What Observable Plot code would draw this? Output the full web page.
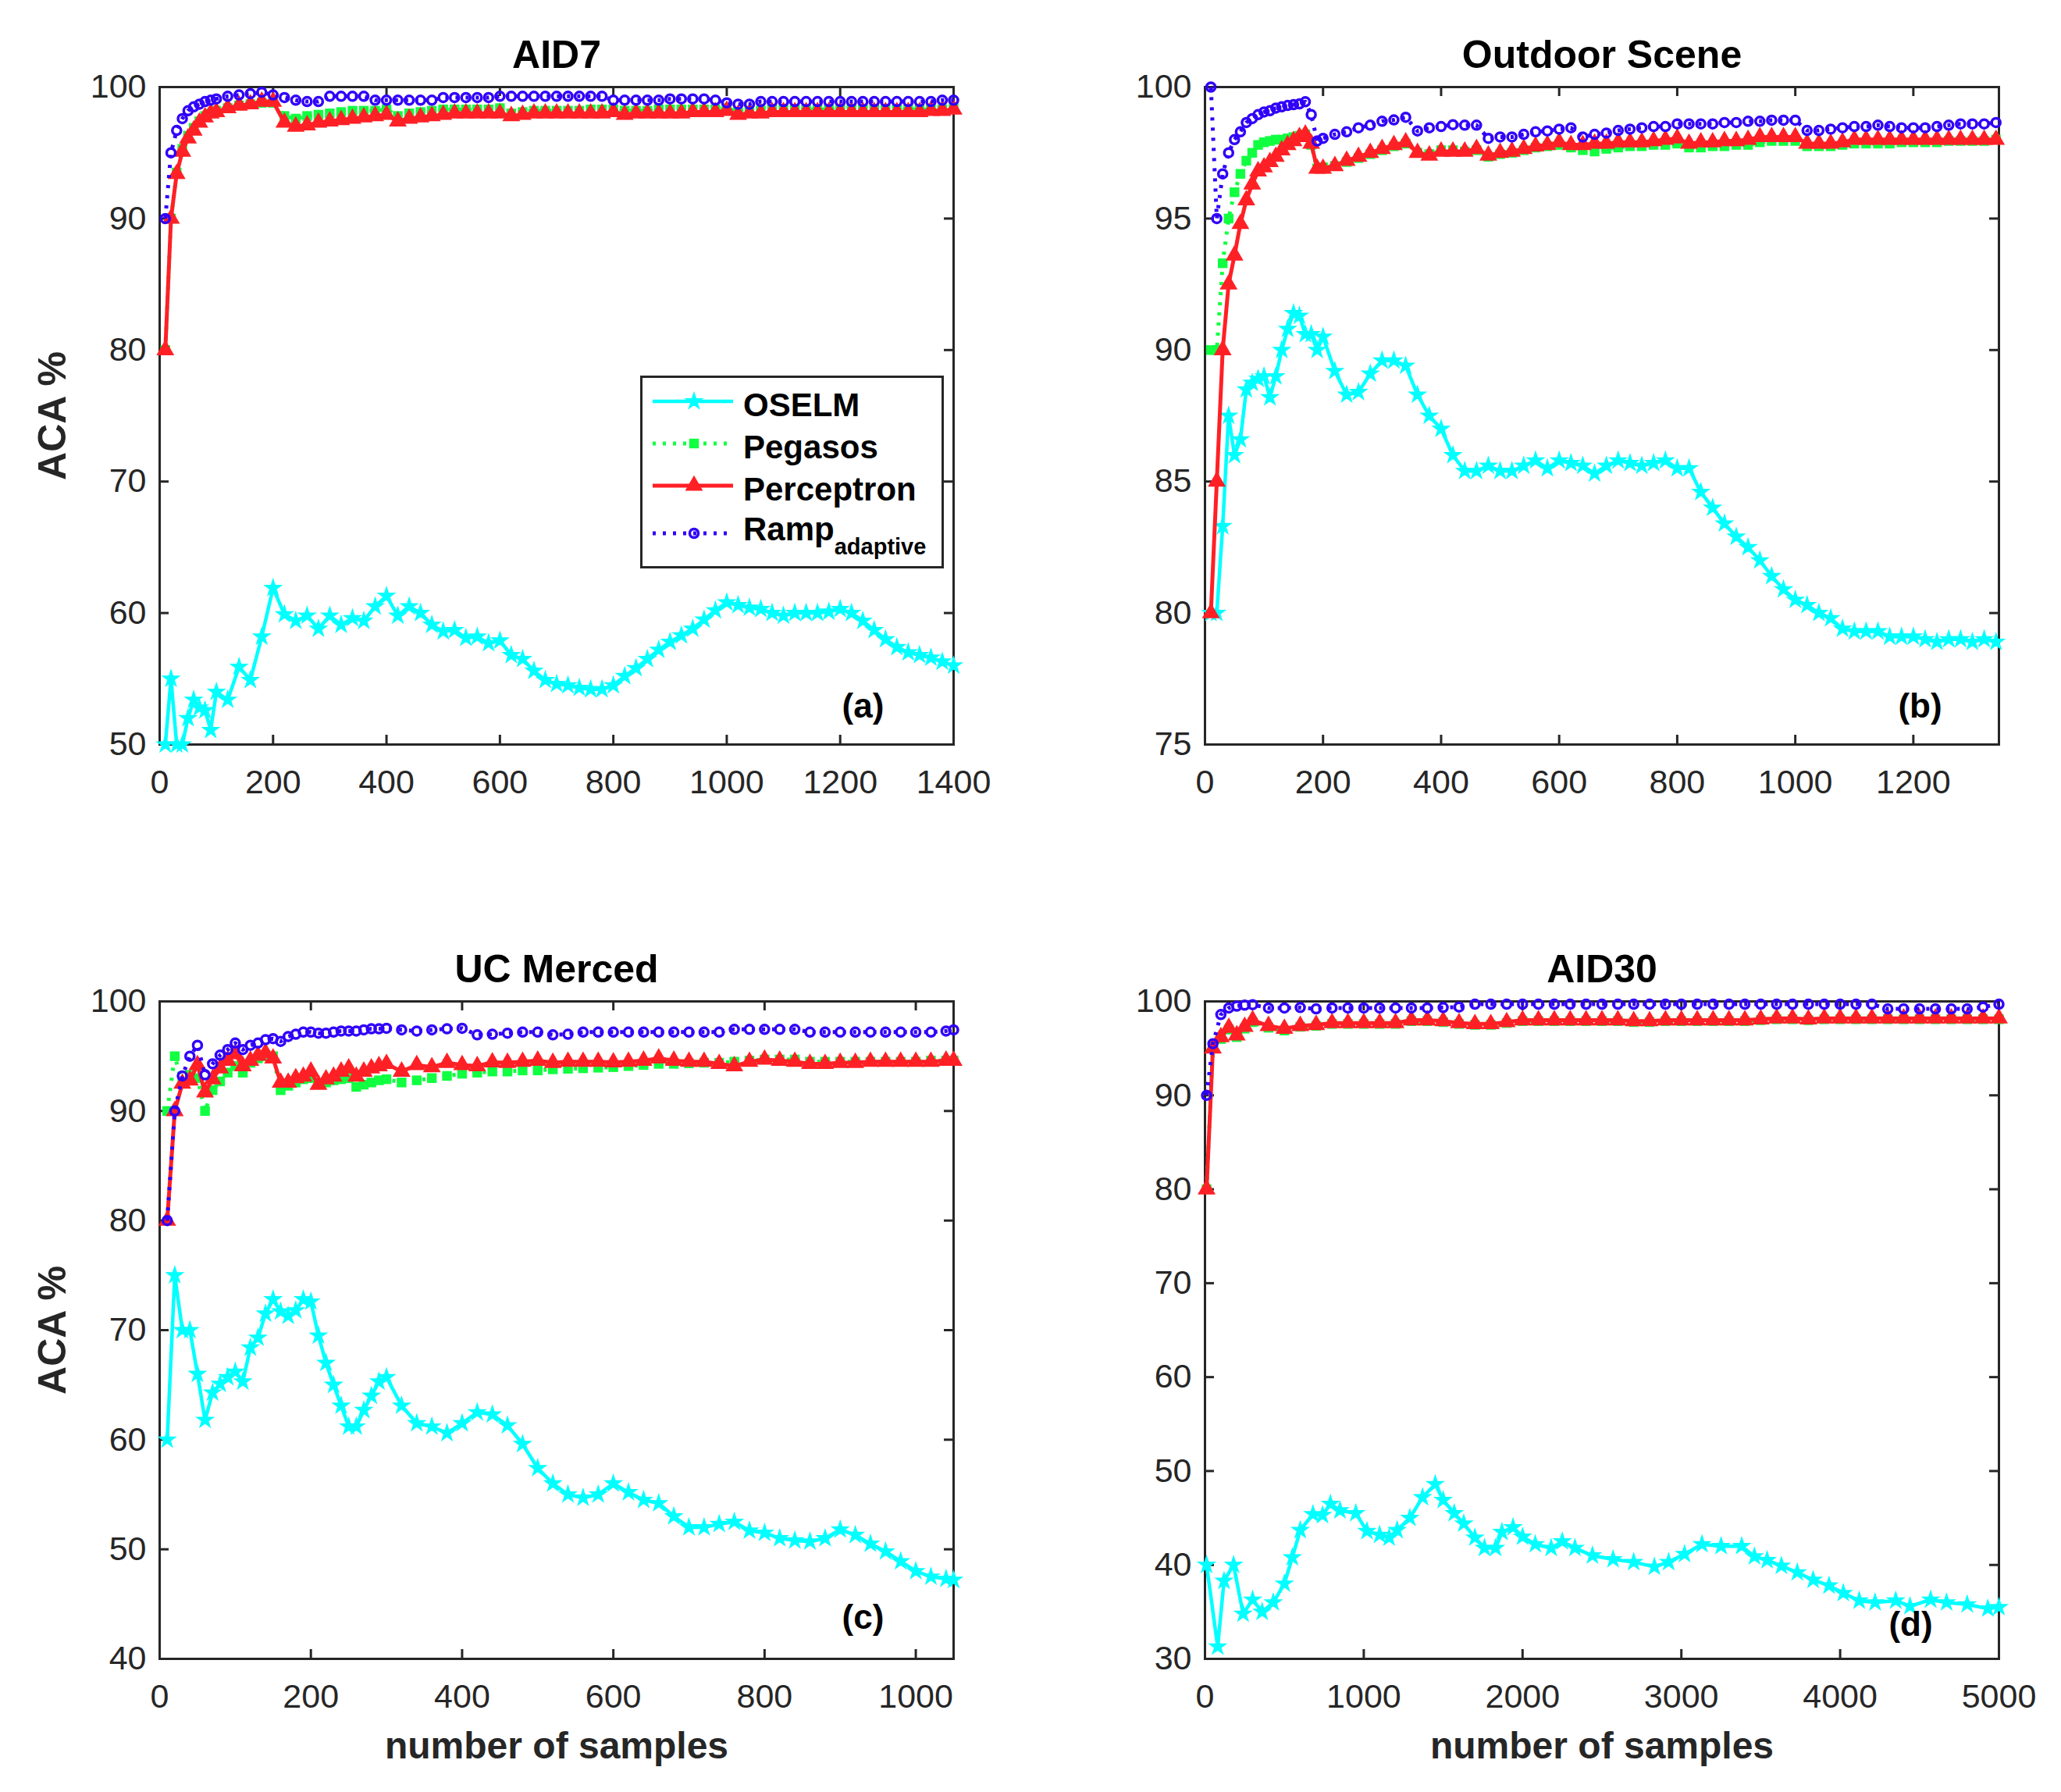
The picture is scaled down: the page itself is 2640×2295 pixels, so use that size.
<!DOCTYPE html>
<html><head><meta charset="utf-8">
<script src="https://cdn.jsdelivr.net/npm/d3@7"></script>
<script src="https://cdn.jsdelivr.net/npm/@observablehq/plot@0.6"></script>
<style>
body{margin:0;background:#fff;}
#root{position:relative;width:2640px;height:2295px;background:#fff;font-family:"Liberation Sans",Arial,Helvetica,sans-serif;overflow:hidden;}
#root svg{position:absolute;}
</style></head>
<body><div id="root"></div>
<script>
// ---------- series styling ----------
const seriesNames = ["OSELM", "Pegasos", "Perceptron", "Ramp"];
const seriesColors = ["#00ffff", "#10ff40", "#ff2026", "#3000f8"];
const seriesDash = [null, "4,9", null, "4,9"];
const seriesSymbols = ["star", "square", "triangle", "circle"];

// ---------- panel texts / ticks ----------
const titles = ["AID7", "Outdoor Scene", "UC Merced", "AID30"];
const tags = ["(a)", "(b)", "(c)", "(d)"];
const aXTicks = [0, 200, 400, 600, 800, 1000, 1200, 1400];
const bXTicks = [0, 200, 400, 600, 800, 1000, 1200];
const cXTicks = [0, 200, 400, 600, 800, 1000];
const dXTicks = [0, 1000, 2000, 3000, 4000, 5000];
const aYTicks = [50, 60, 70, 80, 90, 100];
const bYTicks = [75, 80, 85, 90, 95, 100];
const cYTicks = [40, 50, 60, 70, 80, 90, 100];
const dYTicks = [30, 40, 50, 60, 70, 80, 90, 100];

// ---------- (a) AID7 ----------
const aX = [10,20,30,40,50,60,70,80,90,100,120,140,160,180,200,220,240,260,280,300,320,340,360,380,400,420,440,460,480,500,520,540,560,580,600,620,640,660,680,700,720,740,760,780,800,820,840,860,880,900,920,940,960,980,1000,1020,1040,1060,1080,1100,1120,1140,1160,1180,1200,1220,1240,1260,1280,1300,1320,1340,1360,1380,1400];
const aOselm = [50,55,50,50,52,53.4,52.8,52.6,51.1,54.0,
  53.4,55.9,54.9,58.2,61.9,59.9,59.4,59.8,58.8,59.8,
  59.1,59.6,59.4,60.5,61.3,59.8,60.5,60.0,59.1,58.6,
  58.7,58.1,58.2,57.7,57.9,56.8,56.5,55.6,54.9,54.6,
  54.5,54.3,54.2,54.2,54.5,55.2,55.8,56.5,57.2,57.8,
  58.3,58.8,59.5,60.2,60.8,60.6,60.4,60.3,60.0,59.8,
  60.0,60.0,60.0,60.1,60.3,60.0,59.4,58.7,58.0,57.4,
  57.0,56.8,56.6,56.3,56.0];
const aPeg = [80,90,93.5,95.3,96.3,96.9,97.4,97.8,98.0,98.2,
  98.4,98.6,98.7,98.8,98.8,97.8,97.6,97.8,97.9,98.0,
  98.1,98.2,98.2,98.2,98.3,97.8,98.0,98.1,98.2,98.3,
  98.3,98.3,98.3,98.3,98.4,98.0,98.1,98.2,98.2,98.2,
  98.2,98.2,98.3,98.3,98.3,98.2,98.2,98.2,98.3,98.3,
  98.3,98.3,98.3,98.3,98.4,98.1,98.2,98.2,98.3,98.3,
  98.3,98.3,98.3,98.3,98.3,98.3,98.3,98.3,98.3,98.3,
  98.3,98.3,98.3,98.3,98.4];
const aPer = [80,90,93.4,95.1,96.1,96.7,97.3,97.7,98.0,98.1,
  98.4,98.6,98.7,98.9,98.9,97.3,97.0,97.1,97.3,97.4,
  97.5,97.6,97.7,97.8,97.9,97.4,97.6,97.7,97.8,97.9,
  98.0,98.0,98.0,98.0,98.0,97.8,97.9,98.0,98.0,98.0,
  98.0,98.0,98.0,98.0,98.1,97.9,98.0,98.0,98.0,98.0,
  98.0,98.1,98.1,98.1,98.2,97.9,98.0,98.0,98.1,98.1,
  98.1,98.1,98.1,98.1,98.1,98.1,98.1,98.1,98.1,98.1,
  98.1,98.1,98.2,98.2,98.3];
const aRamp = [90,95,96.7,97.6,98.2,98.5,98.7,98.9,99.0,99.1,
  99.3,99.4,99.5,99.6,99.4,99.2,99.0,98.9,98.9,99.3,
  99.3,99.3,99.3,99.0,99.0,99.0,99.0,99.0,99.0,99.2,
  99.2,99.2,99.2,99.2,99.3,99.3,99.3,99.3,99.3,99.3,
  99.3,99.3,99.3,99.3,99.0,99.0,99.0,99.0,99.0,99.1,
  99.1,99.1,99.1,99.0,98.8,98.7,98.7,98.9,98.9,98.9,
  98.9,98.9,98.9,98.9,98.9,98.9,98.9,98.9,98.9,98.9,
  98.9,98.9,98.9,99.0,99.0];

// ---------- (b) Outdoor Scene ----------
const bX = [10,20,30,40,50,60,70,80,90,100,110,120,130,140,150,160,170,180,190,200,220,240,260,280,300,320,340,360,380,400,420,440,460,480,500,520,540,560,580,600,620,640,660,680,700,720,740,760,780,800,820,840,860,880,900,920,940,960,980,1000,1020,1040,1060,1080,1100,1120,1140,1160,1180,1200,1220,1240,1260,1280,1300,1320,1340];
const bOselm = [80,80,83.3,87.5,86.0,86.6,88.5,88.75,88.9,89.0,
  88.2,89.0,90.0,90.8,91.4,91.3,90.6,90.6,90.0,90.5,
  89.2,88.3,88.4,89.1,89.6,89.6,89.4,88.3,87.5,87.0,
  86.0,85.4,85.4,85.6,85.4,85.4,85.6,85.8,85.5,85.8,
  85.7,85.6,85.3,85.6,85.8,85.7,85.6,85.7,85.8,85.5,
  85.5,84.6,84.0,83.4,82.9,82.5,82.0,81.4,80.9,80.5,
  80.3,80.0,79.8,79.4,79.3,79.3,79.3,79.1,79.1,79.1,
  79.0,78.9,79.0,79.0,78.9,79.0,78.9];
const bPeg = [90,90,93.3,95.0,96.0,96.7,97.2,97.5,97.8,97.9,
  97.95,98.0,98.0,98.05,98.1,98.15,98.2,97.8,96.9,96.95,
  97.0,97.15,97.3,97.45,97.6,97.75,97.85,97.5,97.45,97.6,
  97.6,97.55,97.6,97.35,97.45,97.5,97.6,97.7,97.75,97.8,
  97.7,97.6,97.55,97.65,97.7,97.75,97.75,97.8,97.8,97.85,
  97.7,97.7,97.75,97.75,97.8,97.8,97.9,97.95,97.95,97.95,
  97.75,97.75,97.75,97.8,97.85,97.85,97.85,97.85,97.9,97.9,
  97.9,97.9,97.95,97.95,97.95,97.95,98.0];
const bPer = [80,85,90,92.5,93.6,94.8,95.7,96.3,96.8,96.95,
  97.15,97.35,97.6,97.8,97.95,98.1,98.2,97.85,96.9,96.9,
  97.0,97.2,97.35,97.5,97.65,97.8,97.9,97.5,97.4,97.55,
  97.55,97.55,97.65,97.4,97.5,97.55,97.65,97.75,97.8,97.9,
  97.8,97.8,97.85,97.85,97.9,97.9,97.9,97.95,98.0,98.05,
  97.85,97.9,97.9,97.95,97.95,98.0,98.1,98.1,98.1,98.1,
  97.85,97.85,97.85,97.9,98.0,98.0,98.0,98.0,98.0,98.0,
  98.0,98.0,98.0,98.0,98.0,98.0,98.0];
const bRamp = [100,95,96.7,97.5,98.0,98.3,98.65,98.8,98.95,99.05,
  99.1,99.2,99.25,99.3,99.33,99.36,99.44,98.95,97.95,98.05,
  98.2,98.3,98.45,98.55,98.7,98.75,98.85,98.33,98.45,98.5,
  98.57,98.55,98.55,98.05,98.1,98.1,98.2,98.3,98.33,98.4,
  98.45,98.1,98.2,98.25,98.35,98.4,98.45,98.5,98.5,98.6,
  98.6,98.6,98.6,98.65,98.65,98.7,98.7,98.74,98.74,98.74,
  98.35,98.35,98.4,98.45,98.5,98.5,98.55,98.5,98.45,98.45,
  98.45,98.5,98.55,98.6,98.6,98.6,98.65];

// ---------- (c) UC Merced ----------
const cX = [10,20,30,40,50,60,70,80,90,100,110,120,130,140,150,160,170,180,190,200,210,220,230,240,250,260,270,280,290,300,320,340,360,380,400,420,440,460,480,500,520,540,560,580,600,620,640,660,680,700,720,740,760,780,800,820,840,860,880,900,920,940,960,980,1000,1020,1040,1050];
const cOselm = [60,75,70,70,66,61.8,64.3,65.1,65.7,66.2,
  65.3,68.4,69.3,71.5,72.8,71.7,71.3,71.8,72.8,72.6,
  69.5,67.0,65.0,63.1,61.2,61.2,62.7,64.0,65.3,65.7,
  63.1,61.5,61.2,60.6,61.5,62.5,62.3,61.3,59.6,57.4,
  56.0,55.0,54.7,55.0,56.0,55.2,54.5,54.2,53.0,52.0,
  52.0,52.3,52.5,51.7,51.5,51.0,50.8,50.7,51.0,51.8,
  51.3,50.5,49.8,48.9,48.0,47.5,47.3,47.2];
const cPeg = [90,95,92.5,93.3,93.0,90.0,91.9,92.7,93.5,94.1,
  93.5,94.4,94.8,95.0,95.0,91.9,92.3,92.6,92.9,93.0,
  92.5,92.6,92.8,92.9,93.0,92.2,92.4,92.6,92.8,92.9,
  92.6,92.8,93.0,93.2,93.4,93.5,93.6,93.6,93.7,93.7,
  93.8,93.85,93.9,93.95,94.0,94.1,94.2,94.3,94.3,94.35,
  94.4,94.4,94.5,94.6,94.7,94.7,94.7,94.5,94.5,94.5,
  94.5,94.5,94.5,94.5,94.5,94.6,94.6,94.6];
const cPer = [80,90,92.5,92.8,94.2,91.7,92.9,93.9,94.6,95.2,
  94.1,94.6,95.05,95.3,94.8,92.6,92.6,93.0,93.15,93.6,
  92.4,92.9,93.15,93.6,93.9,93.15,93.6,93.9,94.1,94.3,
  93.6,94.2,94.0,94.4,94.2,94.1,94.45,94.4,94.5,94.6,
  94.4,94.5,94.5,94.5,94.45,94.5,94.6,94.8,94.6,94.5,
  94.5,94.3,94.1,94.5,94.7,94.6,94.5,94.3,94.3,94.4,
  94.4,94.5,94.5,94.5,94.5,94.5,94.6,94.6];
const cRamp = [80,90,93.2,95.0,96.0,93.3,94.3,95.1,95.6,96.2,
  95.6,96.0,96.2,96.5,96.6,96.35,96.8,97.0,97.2,97.2,
  97.1,97.1,97.2,97.3,97.3,97.3,97.4,97.5,97.5,97.55,
  97.4,97.3,97.4,97.5,97.55,96.95,97.0,97.1,97.2,97.2,
  96.95,97.0,97.2,97.2,97.2,97.2,97.2,97.2,97.2,97.2,
  97.2,97.2,97.45,97.45,97.45,97.45,97.45,97.2,97.2,97.2,
  97.2,97.2,97.2,97.2,97.2,97.2,97.3,97.4];

// ---------- (d) AID30 ----------
const dOselmX = [10,80,120,180,240,300,360,430,500,550,600,680,740,790,850,950,1020,1100,1160,1210,1290,1370,1450,1500,1570,1630,1700,1760,1830,1870,1940,2000,2080,2180,2250,2330,2440,2570,2700,2830,2920,3020,3130,3250,3380,3460,3540,3630,3730,3830,3930,4020,4120,4220,4350,4440,4570,4670,4800,4930,5000];
const dOselm = [40,31.3,38.3,40,34.8,36.3,35,36,38,40.8,
  43.7,45.4,45.3,46.5,45.8,45.5,43.6,43.2,42.9,43.7,
  45,47.2,48.6,46.9,45.5,44.4,42.9,41.8,41.8,43.5,
  44,43,42.2,41.8,42.5,41.8,41,40.6,40.3,39.8,
  40.3,41.15,42.2,42,42,40.9,40.5,39.9,39.2,38.4,
  37.8,37,36.2,36,36.2,35.6,36.3,36,35.8,35.35,35.5];
const dX = [10,50,100,150,200,250,300,400,500,600,700,800,900,1000,1100,1200,1300,1400,1500,1600,1700,1800,1900,2000,2100,2200,2300,2400,2500,2600,2700,2800,2900,3000,3100,3200,3300,3400,3500,3600,3700,3800,3900,4000,4100,4200,4300,4400,4500,4600,4700,4800,4900,5000];
const dPeg = [80,95.2,96.0,97.0,96.2,97.1,97.8,
  97.2,96.9,97.3,97.4,97.6,97.6,97.6,97.6,97.6,97.9,97.9,97.8,97.6,
  97.5,97.5,97.7,97.9,97.9,97.9,97.9,97.9,97.9,97.9,97.8,97.8,97.9,97.9,97.9,97.9,97.9,97.9,98.0,98.1,98.1,98.0,98.1,98.1,98.1,98.1,
  98.1,98.1,98.1,98.1,98.1,98.1,98.1,98.1];
const dPer = [80,95.0,96.2,97.2,96.4,97.3,98.0,
  97.4,97.1,97.4,97.5,97.7,97.7,97.7,97.7,97.7,98.0,98.0,97.9,97.7,
  97.6,97.6,97.8,98.0,98.0,98.0,98.0,98.0,98.0,98.0,97.9,97.9,98.0,98.0,98.0,98.0,98.0,98.0,98.1,98.2,98.2,98.1,98.2,98.2,98.2,98.2,
  98.2,98.2,98.2,98.2,98.2,98.2,98.2,98.2];
const dRamp = [90,95.5,98.6,99.3,99.5,99.6,99.65,
  99.3,99.3,99.35,99.2,99.3,99.3,99.3,99.3,99.3,99.3,99.3,99.35,99.4,
  99.7,99.7,99.7,99.7,99.7,99.7,99.7,99.7,99.7,99.7,99.7,99.7,99.7,99.7,99.7,99.7,99.7,99.7,99.7,99.7,99.7,99.7,99.7,99.7,99.7,99.7,
  99.2,99.2,99.2,99.2,99.2,99.2,99.4,99.7];

// ---------- drawing ----------
const FONT = "'Liberation Sans', Arial, Helvetica, sans-serif";
const INK = "#262626";
const W = 1017, H = 842, mL = 200, mR = 60, mT = 100, mB = 150;
const root = document.getElementById("root");

function markerOpts(k) {
  if (k === 0) return {symbol: "star", r: 5.5, fill: seriesColors[0], stroke: seriesColors[0], strokeWidth: 2.5};
  if (k === 1) return {symbol: "square", r: 7, fill: seriesColors[1], stroke: "none"};
  if (k === 2) return {symbol: "triangle", r: 8.5, fill: seriesColors[2], stroke: "none"};
  return {symbol: "circle", r: 5.5, fill: "none", stroke: seriesColors[3], strokeWidth: 3.5};
}

function makePanel(cfg) {
  const rows = (xs, ys) => xs.map((x, i) => ({x, y: ys[i]}));
  const data = [rows(cfg.oX, cfg.oY), rows(cfg.tX, cfg.peg), rows(cfg.tX, cfg.per), rows(cfg.tX, cfg.ramp)];
  const marks = [
    Plot.frame({stroke: INK, strokeWidth: 3}),
    Plot.tickX(cfg.xTicks, {x: d => d, insetTop: H - 12, stroke: INK, strokeWidth: 3}),
    Plot.tickX(cfg.xTicks, {x: d => d, insetBottom: H - 12, stroke: INK, strokeWidth: 3}),
    Plot.tickY(cfg.yTicks, {y: d => d, insetRight: W - 12, stroke: INK, strokeWidth: 3}),
    Plot.tickY(cfg.yTicks, {y: d => d, insetLeft: W - 12, stroke: INK, strokeWidth: 3}),
    Plot.axisX({ticks: cfg.xTicks, tickSize: 0, tickPadding: 32, fontSize: 43, color: INK, label: null, tickFormat: d => String(d)}),
    Plot.axisY({ticks: cfg.yTicks, tickSize: 0, tickPadding: 17, fontSize: 43, color: INK, label: null, tickFormat: d => String(d)})
  ];
  data.forEach((r, k) => {
    const lo = {x: "x", y: "y", stroke: seriesColors[k], strokeWidth: 5, strokeLinecap: "butt"};
    if (seriesDash[k]) lo.strokeDasharray = seriesDash[k];
    if (k === 0) lo.strokeWidth = 4.5;
    marks.push(Plot.line(r, lo));
    marks.push(Plot.dot(r, {x: "x", y: "y", ...markerOpts(k)}));
  });
  marks.push(Plot.text([cfg.title], {text: d => d, frameAnchor: "top", lineAnchor: "middle", dy: -41, fontSize: 50, fontWeight: "bold", fill: "#000"}));
  marks.push(Plot.text([cfg.tag], {text: d => d, frameAnchor: "bottom-right", textAnchor: "middle", lineAnchor: "middle", dx: cfg.tagDx, dy: cfg.tagDy, fontSize: 44, fontWeight: "bold", fill: "#000"}));
  if (cfg.yLabel) marks.push(Plot.text(["ACA %"], {text: d => d, frameAnchor: "left", textAnchor: "middle", lineAnchor: "middle", dx: -137, rotate: -90, fontSize: 50, fontWeight: "bold", fill: INK}));
  if (cfg.xLabel) marks.push(Plot.text(["number of samples"], {text: d => d, frameAnchor: "bottom", lineAnchor: "middle", dy: 112, fontSize: 48, fontWeight: "bold", fill: INK}));
  const svg = Plot.plot({
    width: mL + W + mR, height: mT + H + mB,
    marginLeft: mL, marginRight: mR, marginTop: mT, marginBottom: mB,
    x: {domain: cfg.xDomain}, y: {domain: cfg.yDomain},
    style: {fontFamily: FONT, background: "transparent", overflow: "visible"},
    marks
  });
  svg.style.left = (cfg.left - mL) + "px";
  svg.style.top = (cfg.top - mT) + "px";
  root.appendChild(svg);
}

makePanel({title: titles[0], tag: tags[0], oX: aX, oY: aOselm, tX: aX, peg: aPeg, per: aPer, ramp: aRamp,
  xDomain: [0, 1400], yDomain: [50, 100], xTicks: aXTicks, yTicks: aYTicks, yLabel: true, xLabel: false,
  left: 204, top: 111, tagDx: -116, tagDy: -49});
makePanel({title: titles[1], tag: tags[1], oX: bX, oY: bOselm, tX: bX, peg: bPeg, per: bPer, ramp: bRamp,
  xDomain: [0, 1345], yDomain: [75, 100], xTicks: bXTicks, yTicks: bYTicks, yLabel: false, xLabel: false,
  left: 1543, top: 111, tagDx: -101, tagDy: -49});
makePanel({title: titles[2], tag: tags[2], oX: cX, oY: cOselm, tX: cX, peg: cPeg, per: cPer, ramp: cRamp,
  xDomain: [0, 1050], yDomain: [40, 100], xTicks: cXTicks, yTicks: cYTicks, yLabel: true, xLabel: true,
  left: 204, top: 1282, tagDx: -116, tagDy: -53});
makePanel({title: titles[3], tag: tags[3], oX: dOselmX, oY: dOselm, tX: dX, peg: dPeg, per: dPer, ramp: dRamp,
  xDomain: [0, 5000], yDomain: [30, 100], xTicks: dXTicks, yTicks: dYTicks, yLabel: false, xLabel: true,
  left: 1543, top: 1282, tagDx: -113, tagDy: -44});

// ---------- legend (inside panel a) ----------
(function legend() {
  const lx = 820, ly = 481, lw = 389, lh = 247;
  const rowY = [33, 87, 141, 202];
  const svg = d3.create("svg").attr("width", lw).attr("height", lh)
    .style("left", lx + "px").style("top", ly + "px").style("font-family", FONT);
  svg.append("rect").attr("x", 1.5).attr("y", 1.5).attr("width", lw - 3).attr("height", lh - 3)
    .attr("fill", "#fff").attr("stroke", INK).attr("stroke-width", 3);
  const syms = [d3.symbolStar, d3.symbolSquare, d3.symbolTriangle, d3.symbolCircle];
  seriesNames.forEach((name, k) => {
    const y = rowY[k];
    const ln = svg.append("line").attr("x1", 16).attr("x2", 119).attr("y1", y).attr("y2", y)
      .attr("stroke", seriesColors[k]).attr("stroke-width", k === 0 ? 4.5 : 5);
    if (seriesDash[k]) ln.attr("stroke-dasharray", seriesDash[k]);
    const m = markerOpts(k);
    svg.append("path").attr("transform", `translate(69,${y})`)
      .attr("d", d3.symbol(syms[k], Math.PI * m.r * m.r)())
      .attr("fill", m.fill).attr("stroke", m.stroke).attr("stroke-width", m.strokeWidth || 0);
    const t = svg.append("text").attr("x", 132).attr("font-size", 42).attr("font-weight", "bold").attr("fill", "#000");
    if (k < 3) {
      t.attr("y", y + 4).attr("dominant-baseline", "central").text(name);
    } else {
      t.attr("y", 211).text(name);
      t.append("tspan").attr("font-size", 29).attr("dy", 18).text("adaptive");
    }
  });
  root.appendChild(svg.node());
})();
</script>
</body></html>
